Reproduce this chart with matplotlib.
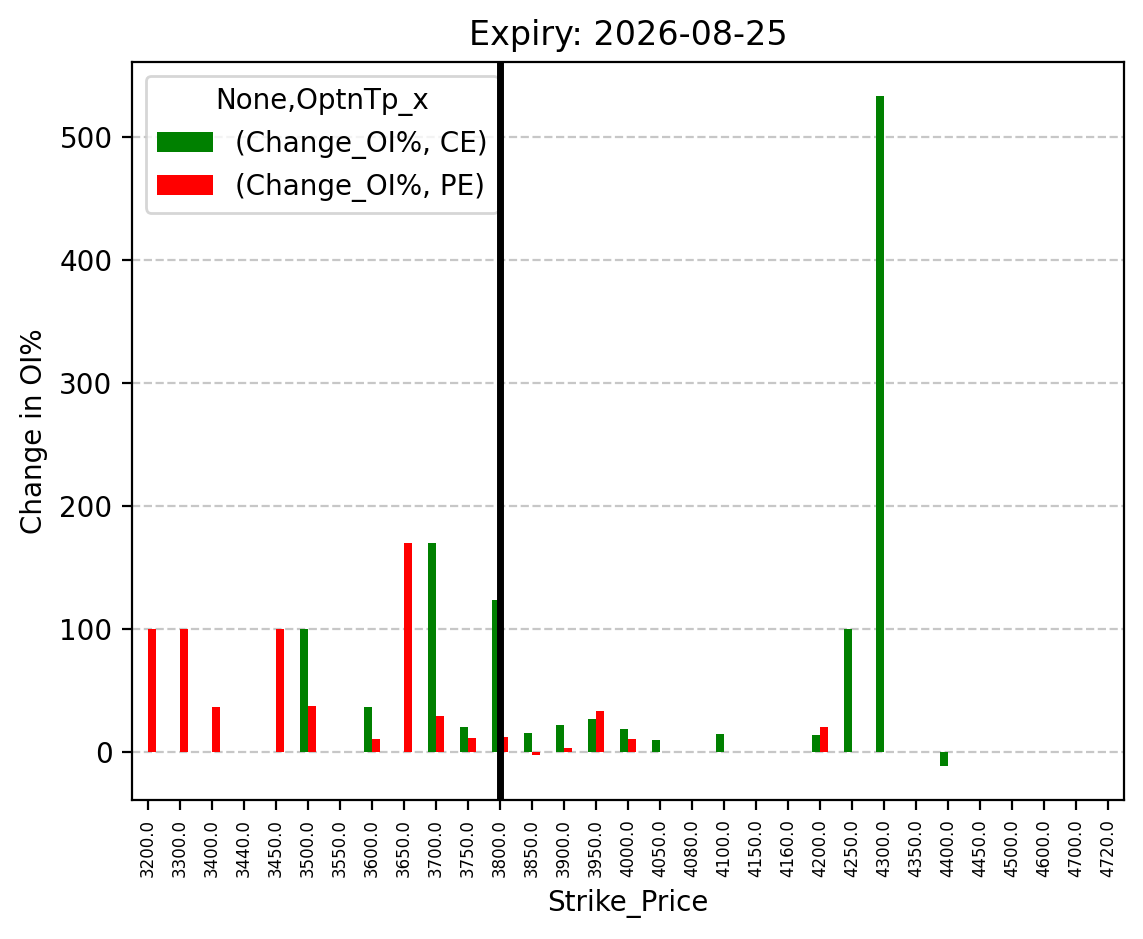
import matplotlib
matplotlib.use("Agg")
import matplotlib.pyplot as plt
import numpy as np

strikes = [3200, 3300, 3400, 3440, 3450, 3500, 3550, 3600, 3650, 3700, 3750,
           3800, 3850, 3900, 3950, 4000, 4050, 4080, 4100, 4150, 4160, 4200,
           4250, 4300, 4350, 4400, 4450, 4500, 4600, 4700, 4720]
ce_change = [0, 0, 0, 0, 0, 100, 0, 36.5, 0, 170, 20.3,
             123.6, 15.4, 22, 26.8, 18.7, 9.8, 0, 14.6, 0, 0, 13.8,
             100, 534, 0, -12, 0, 0, 0, 0, 0]
pe_change = [100, 100, 36.6, 0, 100, 37.4, 0, 10.6, 170, 29, 11.4,
             12.2, -2.7, 3.3, 33.3, 10.6, 0, 0, 0, 0, 0, 20.3,
             0, 0, 0, 0, 0, 0, 0, 0, 0]
series_labels = ["(Change_OI%, CE)", "(Change_OI%, PE)"]
spot_strike = 3800

fig = plt.figure(figsize=(1143 / 200, 939 / 200), dpi=200)
ax = fig.add_axes([0.1155, 0.148, 0.868, 0.786])

x = np.arange(len(strikes))
width = 0.25
ax.bar(x - width / 2, ce_change, width, color="green", label=series_labels[0])
ax.bar(x + width / 2, pe_change, width, color="red", label=series_labels[1])

ax.set_xticks(x)
ax.set_xticklabels([f"{s:.1f}" for s in strikes], rotation=90, fontsize=6)
ax.set_xlim(-0.5, len(strikes) - 0.5)

# spot line sits on top of everything, legend included
ax.axvline(strikes.index(spot_strike), color="black", linewidth=2.5, zorder=6)

ax.grid(axis="y", linestyle="--", alpha=0.7)
ax.set_axisbelow(True)
ax.set_title("Expiry: 2026-08-25")
ax.set_xlabel("Strike_Price")
ax.set_ylabel("Change in OI%")
ax.legend(title="None,OptnTp_x", loc="upper left")

fig.savefig("out.png", dpi=200)
